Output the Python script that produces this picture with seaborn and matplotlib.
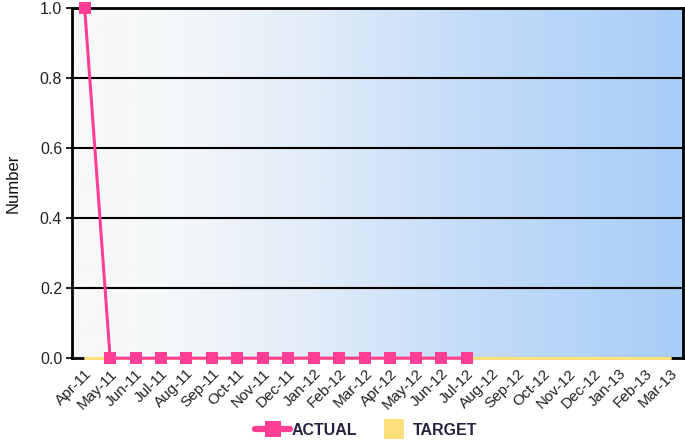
import numpy as np
import pandas as pd
import matplotlib
matplotlib.use("Agg")
import matplotlib.pyplot as plt
import seaborn as sns
from matplotlib.colors import LinearSegmentedColormap
from matplotlib.lines import Line2D

months = ["Apr-11", "May-11", "Jun-11", "Jul-11", "Aug-11", "Sep-11", "Oct-11", "Nov-11",
          "Dec-11", "Jan-12", "Feb-12", "Mar-12", "Apr-12", "May-12", "Jun-12", "Jul-12",
          "Aug-12", "Sep-12", "Oct-12", "Nov-12", "Dec-12", "Jan-13", "Feb-13", "Mar-13"]
actual = [1, 0, 0, 0, 0, 0, 0, 0, 0, 0, 0, 0, 0, 0, 0, 0]
target = [0] * 24

PINK = "#FF3F96"
YELLOW = "#FFE07A"

sns.set_theme(style="white")
plt.rcParams['font.family'] = ['Liberation Sans', 'DejaVu Sans']

fig = plt.figure(figsize=(6.85, 4.40), dpi=100)
ax = fig.add_axes([0.105, 0.186, 0.892, 0.796])

# gradient background
cmap = LinearSegmentedColormap.from_list(
    "bg", [(0.0, "#f8f8f8"), (0.16, "#f5f8fa"), (0.405, "#e0ecf8"),
           (0.65, "#c4dcf8"), (0.895, "#b0d2f8"), (1.0, "#a8cdf7")])
grad = np.linspace(0, 1, 512).reshape(1, -1)
ax.imshow(grad, aspect="auto", cmap=cmap, extent=[0, 1, 0, 1],
          transform=ax.transAxes, zorder=0)

df_t = pd.DataFrame({"month": months, "value": target})
df_a = pd.DataFrame({"month": months[:len(actual)], "value": actual})

x_all = np.arange(len(months))
sns.lineplot(x=x_all, y=df_t["value"], ax=ax, color=YELLOW, linewidth=2.2, zorder=3,
             clip_on=False)
sns.lineplot(x=x_all[:len(actual)], y=df_a["value"], ax=ax, color=PINK, linewidth=2.2,
             marker="s", markersize=9, markeredgewidth=0, zorder=4, clip_on=False)

ax.set_xlim(-0.5, len(months) - 0.5)
ax.set_ylim(0, 1.0)
ax.set_yticks([0.0, 0.2, 0.4, 0.6, 0.8, 1.0])
ax.set_yticklabels(["0.0", "0.2", "0.4", "0.6", "0.8", "1.0"], fontsize=11.5, color="#222222")
ax.set_xticks(x_all)
ax.set_xticklabels(months, rotation=45, ha="right", rotation_mode="anchor", fontsize=11,
                   color="#222222")
ax.tick_params(axis="x", length=0, pad=6)
ax.tick_params(axis="y", length=4, width=1.2, color="black", left=True, pad=3)

for yv in [0.2, 0.4, 0.6, 0.8]:
    ax.axhline(yv, color="black", linewidth=1.5, zorder=2)

for s in ["left", "right", "top", "bottom"]:
    ax.spines[s].set_visible(True)
    ax.spines[s].set_color("black")
    ax.spines[s].set_linewidth(2)
    ax.spines[s].set_zorder(2.5)

ax.set_xlabel("")
ax.set_ylabel("Number", fontsize=12, color="#111111", labelpad=14)

handles = [Line2D([0], [0], color=PINK, linewidth=4.5, marker="s", markersize=12,
                  markeredgewidth=0),
           Line2D([0], [0], color=YELLOW, linestyle="none", marker="s", markersize=14,
                  markeredgewidth=0)]
fig.legend(handles, ["ACTUAL", "TARGET"], loc="center", bbox_to_anchor=(0.535, 0.022),
           ncol=2, frameon=False, handlelength=2.2, handletextpad=0.1,
           columnspacing=1.2, labelcolor="#2a2040",
           prop={"size": 11.5, "weight": "bold"})

fig.savefig("out.png", dpi=100)
